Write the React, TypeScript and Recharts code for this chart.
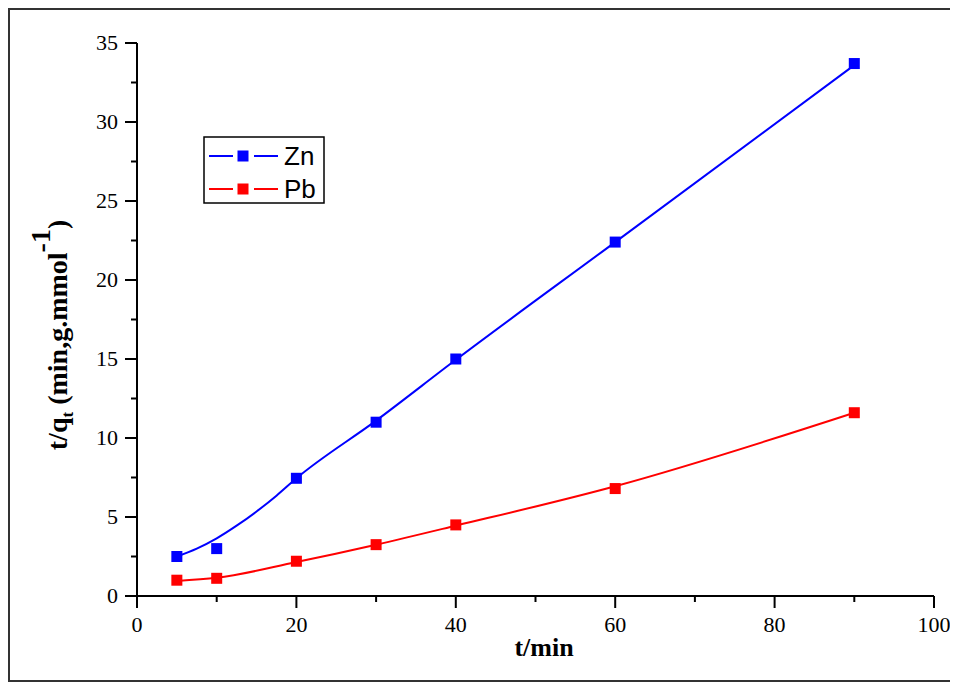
import React from 'react';
import { ComposedChart, Line, Scatter, XAxis, YAxis } from 'recharts';

if (typeof document !== 'undefined') {
  document.documentElement.style.overflow = 'hidden';
  document.body.style.overflow = 'hidden';
}

const times = [5, 10, 20, 30, 40, 60, 90];
const znValues = [2.5, 3.0, 7.45, 11.0, 15.0, 22.4, 33.7];
const pbValues = [1.0, 1.12, 2.2, 3.25, 4.5, 6.8, 11.6];

const znFitTimes = [5, 7.5, 10, 12.5, 15, 17.5, 20, 30, 40, 60, 90];
const znFitValues = [2.5, 3.0, 3.65, 4.45, 5.35, 6.35, 7.45, 11.1, 14.95, 22.4, 33.6];
const pbFitTimes = [5, 10, 20, 30, 40, 60, 90];
const pbFitValues = [0.95, 1.15, 2.15, 3.25, 4.45, 6.95, 11.6];

const xTicks = [0, 10, 20, 30, 40, 50, 60, 70, 80, 90, 100];
const xMajor = [0, 20, 40, 60, 80, 100];
const yTicks = [0, 2.5, 5, 7.5, 10, 12.5, 15, 17.5, 20, 22.5, 25, 27.5, 30, 32.5, 35];
const yMajor = [0, 5, 10, 15, 20, 25, 30, 35];

const seriesNames = ['Zn', 'Pb'];
const seriesColors = ['#0000FF', '#FF0000'];

const toPts = (xs: number[], ys: number[]) => xs.map((x, i) => ({ x, y: ys[i] }));
const znPts = toPts(times, znValues);
const pbPts = toPts(times, pbValues);
const znFit = toPts(znFitTimes, znFitValues);
const pbFit = toPts(pbFitTimes, pbFitValues);

const SERIF = '"Liberation Serif", "Times New Roman", serif';
const SANS = '"Liberation Sans", Arial, sans-serif';

const XTick = (props: any) => {
  const { x, y, payload } = props;
  const major = xMajor.includes(payload.value);
  return (
    <g>
      <line x1={x} x2={x} y1={y} y2={y + (major ? 12 : 6)} stroke="#000" strokeWidth={2} />
      {major && (
        <text x={x} y={y + 36} textAnchor="middle" fontFamily={SERIF} fontSize={22} fill="#000">
          {payload.value}
        </text>
      )}
    </g>
  );
};

const YTick = (props: any) => {
  const { x, y, payload } = props;
  const major = yMajor.includes(payload.value);
  return (
    <g>
      <line x1={x} x2={x - (major ? 12 : 6)} y1={y} y2={y} stroke="#000" strokeWidth={2} />
      {major && (
        <text x={x - 19} y={y + 7} textAnchor="end" fontFamily={SERIF} fontSize={22} fill="#000">
          {payload.value}
        </text>
      )}
    </g>
  );
};

const square = (color: string) => (props: any) => {
  const { cx, cy } = props;
  return <rect x={cx - 5.5} y={cy - 5.5} width={11} height={11} fill={color} />;
};

const YLabel = () => (
  <text
    transform="translate(57,325) rotate(-90)"
    textAnchor="middle"
    fontFamily={SERIF}
    fontWeight="bold"
    fontSize={28}
    fill="#000"
  >
    <tspan>t/q</tspan>
    <tspan fontSize={17} dy={6}>t</tspan>
    <tspan dy={-6}> (min,g.mmol</tspan>
    <tspan dy={-17}>-1</tspan>
    <tspan dy={17}>)</tspan>
  </text>
);

const XLabel = () => (
  <text x={534} y={646} textAnchor="middle" fontFamily={SERIF} fontWeight="bold" fontSize={26} fill="#000">
    t/min
  </text>
);

const LegendBox = () => (
  <svg
    width={124}
    height={70}
    style={{ position: 'absolute', left: 192, top: 125, overflow: 'visible' }}
  >
    <rect x={2} y={2} width={120} height={66} fill="#fff" stroke="#000" strokeWidth={1.5} />
    {seriesNames.map((name, i) => {
      const cy = 21 + i * 33;
      return (
        <g key={name}>
          <line x1={7} x2={31} y1={cy} y2={cy} stroke={seriesColors[i]} strokeWidth={2} />
          <rect x={35.5} y={cy - 5.5} width={11} height={11} fill={seriesColors[i]} />
          <line x1={52} x2={76} y1={cy} y2={cy} stroke={seriesColors[i]} strokeWidth={2} />
          <text x={82} y={cy + 9} fontFamily={SANS} fontSize={26} fill="#000">
            {name}
          </text>
        </g>
      );
    })}
  </svg>
);

export default function App() {
  return (
    <div
      style={{
        position: 'relative',
        width: 1000,
        height: 670,
        borderTop: '2px solid #333',
        borderLeft: '2px solid #333',
        borderBottom: '2px solid #333',
        background: '#fff',
      }}
    >
      <ComposedChart
        width={948}
        height={670}
        margin={{ top: 33, right: 24, bottom: 44, left: 67 }}
      >
        <XAxis
          type="number"
          dataKey="x"
          domain={[0, 100]}
          ticks={xTicks}
          interval={0}
          height={40}
          tickSize={0}
          tickMargin={0}
          tickLine={false}
          axisLine={{ stroke: '#000', strokeWidth: 2 }}
          tick={<XTick />}
          allowDataOverflow
        />
        <YAxis
          type="number"
          dataKey="y"
          domain={[0, 35]}
          ticks={yTicks}
          interval={0}
          width={60}
          tickSize={0}
          tickMargin={0}
          tickLine={false}
          axisLine={{ stroke: '#000', strokeWidth: 2 }}
          tick={<YTick />}
          allowDataOverflow
        />
        <Line
          data={znFit}
          dataKey="y"
          type="monotone"
          stroke={seriesColors[0]}
          strokeWidth={2}
          dot={false}
          isAnimationActive={false}
        />
        <Line
          data={pbFit}
          dataKey="y"
          type="monotone"
          stroke={seriesColors[1]}
          strokeWidth={2}
          dot={false}
          isAnimationActive={false}
        />
        <Scatter data={znPts} dataKey="y" shape={square(seriesColors[0])} isAnimationActive={false} />
        <Scatter data={pbPts} dataKey="y" shape={square(seriesColors[1])} isAnimationActive={false} />
        <YLabel />
        <XLabel />
      </ComposedChart>
      <LegendBox />
    </div>
  );
}
